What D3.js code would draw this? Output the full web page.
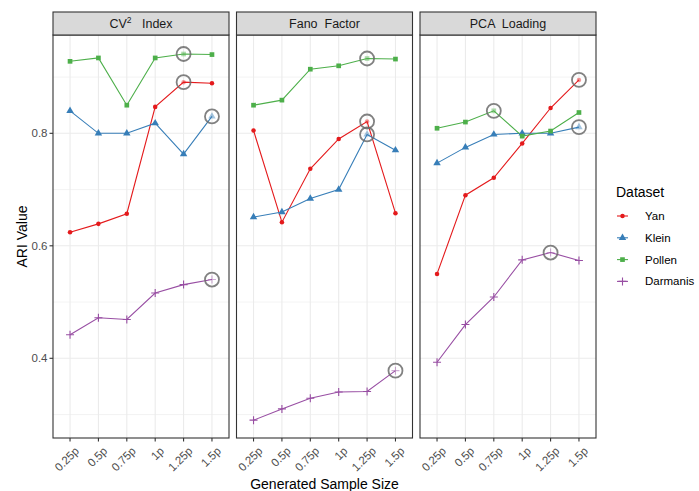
<!DOCTYPE html>
<html>
<head>
<meta charset="utf-8">
<script src="https://cdn.jsdelivr.net/npm/d3@7"></script>
<style>
body { margin: 0; background: #fff; }
text { font-family: "Liberation Sans", Arial, sans-serif; }
</style>
</head>
<body>
<svg id="chart" width="699" height="491"></svg>
<script>
// x categories and facets
const sizes = ['0.25p', '0.5p', '0.75p', '1p', '1.25p', '1.5p'];
const methods = ['CV2', 'Fano', 'PCA'];
const datasets = ['Yan', 'Klein', 'Pollen', 'Darmanis'];

// ARI values
const cvYan = [0.624, 0.639, 0.657, 0.847, 0.891, 0.889];
const cvKlein = [0.840, 0.800, 0.800, 0.818, 0.763, 0.830];
const cvPollen = [0.928, 0.934, 0.850, 0.934, 0.941, 0.940];
const cvDarmanis = [0.442, 0.472, 0.469, 0.516, 0.531, 0.540];

const fanoYan = [0.805, 0.642, 0.737, 0.790, 0.821, 0.658];
const fanoKlein = [0.651, 0.660, 0.684, 0.700, 0.798, 0.770];
const fanoPollen = [0.850, 0.859, 0.914, 0.920, 0.933, 0.932];
const fanoDarmanis = [0.290, 0.310, 0.329, 0.340, 0.341, 0.378];

const pcaYan = [0.550, 0.690, 0.721, 0.782, 0.845, 0.895];
const pcaKlein = [0.747, 0.775, 0.798, 0.800, 0.800, 0.811];
const pcaPollen = [0.809, 0.820, 0.840, 0.795, 0.804, 0.837];
const pcaDarmanis = [0.393, 0.460, 0.509, 0.575, 0.588, 0.574];

// circled (best) sample size per facet, per dataset
const bestCV = ['1.25p', '1.5p', '1.25p', '1.5p'];
const bestFano = ['1.25p', '1.25p', '1.25p', '1.5p'];
const bestPCA = ['1.5p', '1.5p', '0.75p', '1.25p'];

const yTicks = [0.4, 0.6, 0.8];
const yMinor = [0.3, 0.5, 0.7, 0.9];

const values = {
	CV2: { Yan: cvYan, Klein: cvKlein, Pollen: cvPollen, Darmanis: cvDarmanis },
	Fano: { Yan: fanoYan, Klein: fanoKlein, Pollen: fanoPollen, Darmanis: fanoDarmanis },
	PCA: { Yan: pcaYan, Klein: pcaKlein, Pollen: pcaPollen, Darmanis: pcaDarmanis }
};
const best = { CV2: bestCV, Fano: bestFano, PCA: bestPCA };

const colors = { Yan: '#E41A1C', Klein: '#377EB8', Pollen: '#4DAF4A', Darmanis: '#984EA3' };

const svg = d3.select('#chart');

const panelLeft = 53;
const panelW = 176;
const panelGap = 7.5;
const panelTop = 35;
const panelBottom = 438;
const stripTop = 12;

const y = d3.scaleLinear().domain([0.2583, 0.9748]).range([panelBottom, panelTop]);
const x = d3.scalePoint().domain(sizes).range([0, panelW]).padding(0.6);

const symbols = {
	Yan: d3.symbol().type(d3.symbolCircle).size(16),
	Klein: d3.symbol().type(d3.symbolTriangle).size(24),
	Pollen: d3.symbol().type(d3.symbolSquare).size(22),
	Darmanis: d3.symbol().type(d3.symbolCross).size(0)
};

const drawMark = (g, name, px, py, faded) => {
	const c = colors[name];
	const op = faded ? 0.45 : 1;
	if (name === 'Darmanis') {
		g.append('path')
			.attr('d', `M${px - 4},${py}H${px + 4}M${px},${py - 4}V${py + 4}`)
			.attr('stroke', c).attr('stroke-width', 1.1).attr('opacity', op);
	} else {
		g.append('path')
			.attr('transform', `translate(${px},${py})`)
			.attr('d', symbols[name]())
			.attr('fill', c).attr('opacity', op);
	}
};

methods.forEach((m, i) => {
	const left = panelLeft + i * (panelW + panelGap);
	const g = svg.append('g').attr('transform', `translate(${left},0)`);

	// grid
	g.selectAll('line.minor').data(yMinor).enter().append('line')
		.attr('x1', 0).attr('x2', panelW)
		.attr('y1', d => y(d)).attr('y2', d => y(d))
		.attr('stroke', '#EBEBEB').attr('stroke-width', 0.6);
	g.selectAll('line.major').data(yTicks).enter().append('line')
		.attr('x1', 0).attr('x2', panelW)
		.attr('y1', d => y(d)).attr('y2', d => y(d))
		.attr('stroke', '#EBEBEB').attr('stroke-width', 1.1);
	g.selectAll('line.vmajor').data(sizes).enter().append('line')
		.attr('x1', d => x(d)).attr('x2', d => x(d))
		.attr('y1', panelTop).attr('y2', panelBottom)
		.attr('stroke', '#EBEBEB').attr('stroke-width', 1.1);

	// series
	datasets.forEach(ds => {
		const vals = values[m][ds];
		const line = d3.line().x((d, j) => x(sizes[j])).y(d => y(d));
		g.append('path').datum(vals)
			.attr('d', line)
			.attr('fill', 'none')
			.attr('stroke', colors[ds])
			.attr('stroke-width', 1.1);
	});
	datasets.forEach((ds, k) => {
		const vals = values[m][ds];
		vals.forEach((v, j) => {
			drawMark(g, ds, x(sizes[j]), y(v), sizes[j] === best[m][k]);
		});
	});
	datasets.forEach((ds, k) => {
		const j = sizes.indexOf(best[m][k]);
		g.append('circle')
			.attr('cx', x(sizes[j])).attr('cy', y(values[m][ds][j]))
			.attr('r', 7)
			.attr('fill', 'none')
			.attr('stroke', '#6b6b6b')
			.attr('stroke-opacity', 0.85)
			.attr('stroke-width', 1.8);
	});

	// border
	g.append('rect')
		.attr('x', 0).attr('y', panelTop)
		.attr('width', panelW).attr('height', panelBottom - panelTop)
		.attr('fill', 'none').attr('stroke', '#333333').attr('stroke-width', 1.1);

	// strip
	g.append('rect')
		.attr('x', 0).attr('y', stripTop)
		.attr('width', panelW).attr('height', panelTop - stripTop)
		.attr('fill', '#D9D9D9').attr('stroke', '#333333').attr('stroke-width', 1.1);
	const st = g.append('text')
		.attr('x', panelW / 2).attr('y', (stripTop + panelTop) / 2 + 4.5)
		.attr('text-anchor', 'middle')
		.attr('font-size', 12.5).attr('fill', '#1A1A1A')
		.attr('xml:space', 'preserve');
	if (m === 'CV2') {
		st.append('tspan').text('CV');
		st.append('tspan').attr('dy', -5).attr('font-size', 8.5).text('2');
		st.append('tspan').attr('dy', 5).text('   Index');
	} else if (m === 'Fano') {
		st.text('Fano  Factor');
	} else {
		st.text('PCA  Loading');
	}

	// x axis
	const xa = g.append('g');
	sizes.forEach(s => {
		xa.append('line')
			.attr('x1', x(s)).attr('x2', x(s))
			.attr('y1', panelBottom).attr('y2', panelBottom + 3.5)
			.attr('stroke', '#333333').attr('stroke-width', 1.1);
		xa.append('text')
			.attr('transform', `translate(${x(s) + 4},${panelBottom + 8}) rotate(-45)`)
			.attr('text-anchor', 'end')
			.attr('dy', '0.7em')
			.attr('font-size', 11.5).attr('fill', '#4D4D4D')
			.text(s);
	});

	// y axis on first panel
	if (i === 0) {
		yTicks.forEach(t => {
			g.append('line')
				.attr('x1', -3.5).attr('x2', 0)
				.attr('y1', y(t)).attr('y2', y(t))
				.attr('stroke', '#333333').attr('stroke-width', 1.1);
			g.append('text')
				.attr('x', -5.5).attr('y', y(t)).attr('dy', '0.35em')
				.attr('text-anchor', 'end')
				.attr('font-size', 11.5).attr('fill', '#4D4D4D')
				.text(t.toFixed(1));
		});
	}
});

// axis titles
svg.append('text')
	.attr('transform', `translate(27,${(panelTop + panelBottom) / 2}) rotate(-90)`)
	.attr('text-anchor', 'middle')
	.attr('font-size', 14).attr('fill', '#000')
	.text('ARI Value');

svg.append('text')
	.attr('x', panelLeft + (3 * panelW + 2 * panelGap) / 2).attr('y', 489)
	.attr('text-anchor', 'middle')
	.attr('font-size', 14).attr('fill', '#000')
	.text('Generated Sample Size');

// legend
const legend = svg.append('g').attr('transform', 'translate(616,0)');
legend.append('text')
	.attr('x', 0).attr('y', 197)
	.attr('font-size', 14).attr('fill', '#000')
	.text('Dataset');
datasets.forEach((ds, k) => {
	const ly = 216 + k * 21.8;
	legend.append('line')
		.attr('x1', 1).attr('x2', 12)
		.attr('y1', ly).attr('y2', ly)
		.attr('stroke', colors[ds]).attr('stroke-width', 1.1);
	drawMark(legend, ds, 6.5, ly, false);
	legend.append('text')
		.attr('x', 29).attr('y', ly).attr('dy', '0.35em')
		.attr('font-size', 11.5).attr('fill', '#000')
		.text(ds);
});
</script>
</body>
</html>
